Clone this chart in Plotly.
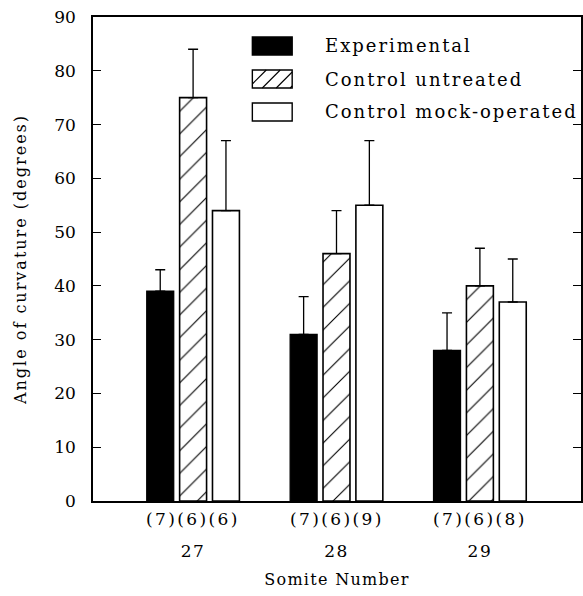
import plotly.graph_objects as go

# ---------------- data ----------------
categories = ["27", "28", "29"]
series_names = ["Experimental", "Control untreated", "Control mock-operated"]
exp_vals = [39, 31, 28]
exp_err = [4, 7, 7]
unt_vals = [75, 46, 40]
unt_err = [9, 8, 7]
mock_vals = [54, 55, 37]
mock_err = [13, 12, 8]
exp_n = [7, 7, 7]
unt_n = [6, 6, 6]
mock_n = [6, 9, 8]
y_ticks = [0, 10, 20, 30, 40, 50, 60, 70, 80, 90]

# ---------------- layout constants ----------------
W, H = 583, 596
L, R, T, B = 93, 0, 17, 95
PW, PH = W - L - R, H - T - B
FONT = "DejaVu Serif"


def px_x(px):
    return (px - L) / PW


def px_y(py):
    return (H - B - py) / PH


def spaced(s, ls):
    return f'<span style="letter-spacing:{ls}px">{s}</span>'


fig = go.Figure()

err_style = dict(type="data", symmetric=False, color="black", thickness=1.3, width=5)

fig.add_trace(go.Bar(
    x=categories, y=exp_vals, name=series_names[0],
    marker=dict(color="black", line=dict(color="black", width=1.3)),
    error_y=dict(array=exp_err, arrayminus=[0] * len(exp_err), **err_style),
))
fig.add_trace(go.Bar(
    x=categories, y=unt_vals, name=series_names[1],
    marker=dict(color="white", line=dict(color="black", width=1.6),
                pattern=dict(shape="/", fgcolor="black", fgopacity=1, bgcolor="white",
                             size=16, solidity=0.07)),
    error_y=dict(array=unt_err, arrayminus=[0] * len(unt_err), **err_style),
))
fig.add_trace(go.Bar(
    x=categories, y=mock_vals, name=series_names[2],
    marker=dict(color="white", line=dict(color="black", width=1.6)),
    error_y=dict(array=mock_err, arrayminus=[0] * len(mock_err), **err_style),
))

# sample sizes under each group
for i in range(len(categories)):
    fig.add_annotation(x=i, xref="x", y=px_y(519), yref="paper",
                       text=spaced(f"({exp_n[i]})({unt_n[i]})({mock_n[i]})", 2.4),
                       showarrow=False, xanchor="center", yanchor="middle",
                       font=dict(family=FONT, size=17, color="black"))

# ---------------- legend drawn manually ----------------
box_x0, box_x1 = 253, 293
text_x = 324
rows_y = [46, 79, 112]
box_h = 18
fills = ["black", "white", "white"]
for i, (name, yc) in enumerate(zip(series_names, rows_y)):
    fig.add_shape(type="rect", xref="paper", yref="paper",
                  x0=px_x(box_x0), x1=px_x(box_x1),
                  y0=px_y(yc + box_h / 2), y1=px_y(yc - box_h / 2),
                  fillcolor=fills[i], line=dict(color="black", width=1.4))
    fig.add_annotation(x=px_x(text_x), y=px_y(yc), xref="paper", yref="paper",
                       text=spaced(name, 2.0), showarrow=False, xanchor="left", yanchor="middle",
                       font=dict(family=FONT, size=18, color="black"))

# hatch lines in the 'Control untreated' legend box
yc = rows_y[1]
top, bot = yc - box_h / 2, yc + box_h / 2
segs = []
k = box_x0 - box_h
while k < box_x1:
    xa, ya = k, bot
    xb, yb = k + box_h, top
    if xa < box_x0:
        ya = bot - (box_x0 - xa)
        xa = box_x0
    if xb > box_x1:
        yb = top + (xb - box_x1)
        xb = box_x1
    if xb > xa:
        segs.append(f"M{px_x(xa)},{px_y(ya)} L{px_x(xb)},{px_y(yb)}")
    k += 14
fig.add_shape(type="path", xref="paper", yref="paper", path=" ".join(segs),
              line=dict(color="black", width=1.1))

fig.update_layout(
    width=W, height=H,
    margin=dict(l=L, r=R, t=T, b=B),
    paper_bgcolor="white", plot_bgcolor="white",
    barmode="group", bargap=0.3125, bargroupgap=0.18,
    showlegend=False,
    font=dict(family=FONT, size=17, color="black"),
)
fig.update_xaxes(
    type="category", range=[-0.698, 2.705],
    tickmode="array", tickvals=categories,
    ticktext=[spaced(c, 1.5) for c in categories],
    showline=True, linecolor="black", linewidth=1.5, mirror=True,
    ticks="", showgrid=False, zeroline=False,
    ticklabelstandoff=34,
    tickfont=dict(family=FONT, size=17),
    title=dict(text=spaced("Somite Number", 1.3), font=dict(family=FONT, size=16), standoff=14),
)
fig.update_yaxes(
    range=[0, 90], tickvals=y_ticks,
    showline=True, linecolor="black", linewidth=1.5, mirror="ticks",
    ticks="inside", ticklen=8, tickwidth=1.3, tickcolor="black",
    showgrid=False, zeroline=False,
    ticklabelstandoff=12,
    tickfont=dict(family=FONT, size=17),
    title=dict(text=spaced("Angle of curvature (degrees)", 2.0), font=dict(family=FONT, size=16), standoff=24),
)

fig.write_html("out.html")
